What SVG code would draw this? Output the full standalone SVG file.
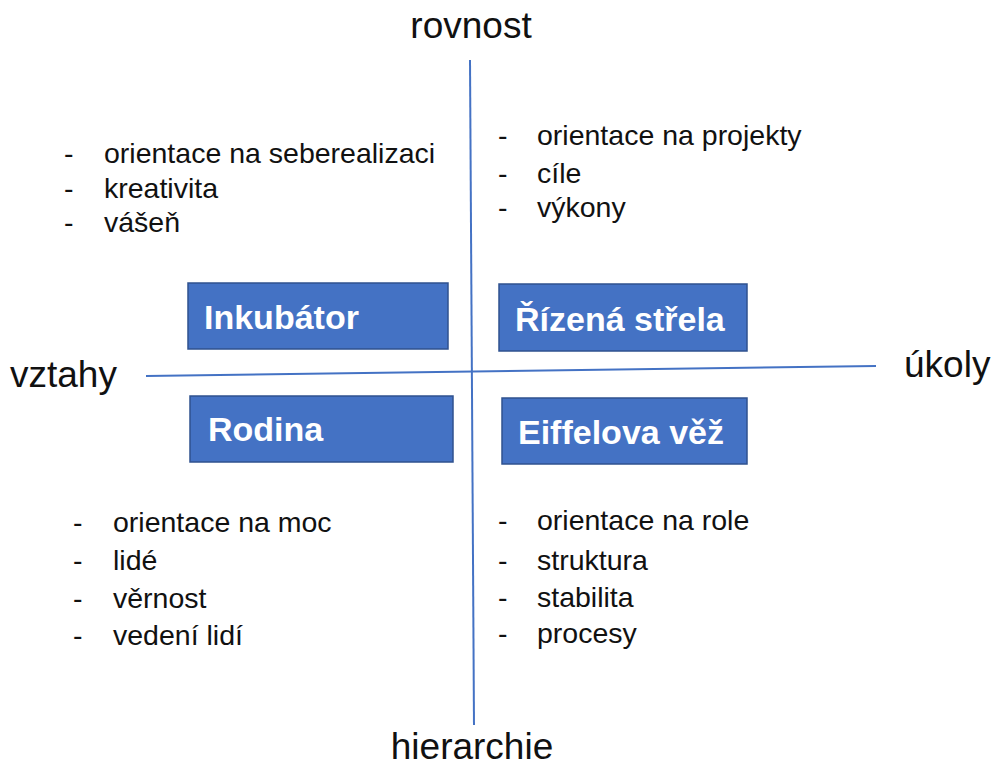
<svg xmlns="http://www.w3.org/2000/svg" width="995" height="769" viewBox="0 0 995 769">
<style>
.ax{font-family:"Liberation Sans","Noto Sans",sans-serif;font-size:37px;fill:#111}
.li{font-family:"Liberation Sans","Noto Sans",sans-serif;font-size:28.5px;fill:#111}
.box{fill:#4472C4;stroke:#2F528F;stroke-width:1.5}
.bt{font-family:"Liberation Sans","Noto Sans",sans-serif;font-size:34px;font-weight:bold;fill:#fff}
.ln{stroke:#4472C4;stroke-width:2;fill:none}
</style>
<rect width="995" height="769" fill="#fff"/>
<g id="connectors">
<line class="ln" x1="470" y1="60" x2="474" y2="725"/>
<line class="ln" x1="146" y1="376" x2="876" y2="366"/>
</g>
<g id="axis-labels">
<text class="ax" x="471" y="38" text-anchor="middle">rovnost</text>
<text class="ax" x="472" y="759" text-anchor="middle">hierarchie</text>
<text class="ax" x="10" y="387">vztahy</text>
<text class="ax" x="904" y="377">úkoly</text>
</g>
<g id="inkubator">
<rect class="box" x="188" y="283" width="260" height="66"/>
<text class="bt" x="204" y="329">Inkubátor</text>
</g>
<g id="rizena-strela">
<rect class="box" x="499" y="284" width="248" height="67"/>
<text class="bt" x="515" y="331">Řízená střela</text>
</g>
<g id="rodina">
<rect class="box" x="190" y="396" width="263" height="66"/>
<text class="bt" x="208" y="441">Rodina</text>
</g>
<g id="eiffelova-vez">
<rect class="box" x="502" y="398" width="245" height="66"/>
<text class="bt" x="518" y="444">Eiffelova věž</text>
</g>
<g id="list-tl" class="li">
<text x="64" y="163">-</text><text x="104" y="163">orientace na seberealizaci</text>
<text x="64" y="198">-</text><text x="104" y="198">kreativita</text>
<text x="64" y="232">-</text><text x="104" y="232">vášeň</text>
</g>
<g id="list-tr" class="li">
<text x="498" y="145">-</text><text x="537" y="145">orientace na projekty</text>
<text x="498" y="183">-</text><text x="537" y="183">cíle</text>
<text x="498" y="217">-</text><text x="537" y="217">výkony</text>
</g>
<g id="list-bl" class="li">
<text x="73" y="532">-</text><text x="113" y="532">orientace na moc</text>
<text x="73" y="570">-</text><text x="113" y="570">lidé</text>
<text x="73" y="608">-</text><text x="113" y="608">věrnost</text>
<text x="73" y="645">-</text><text x="113" y="645">vedení lidí</text>
</g>
<g id="list-br" class="li">
<text x="498" y="530">-</text><text x="537" y="530">orientace na role</text>
<text x="498" y="570">-</text><text x="537" y="570">struktura</text>
<text x="498" y="607">-</text><text x="537" y="607">stabilita</text>
<text x="498" y="643">-</text><text x="537" y="643">procesy</text>
</g>
</svg>
